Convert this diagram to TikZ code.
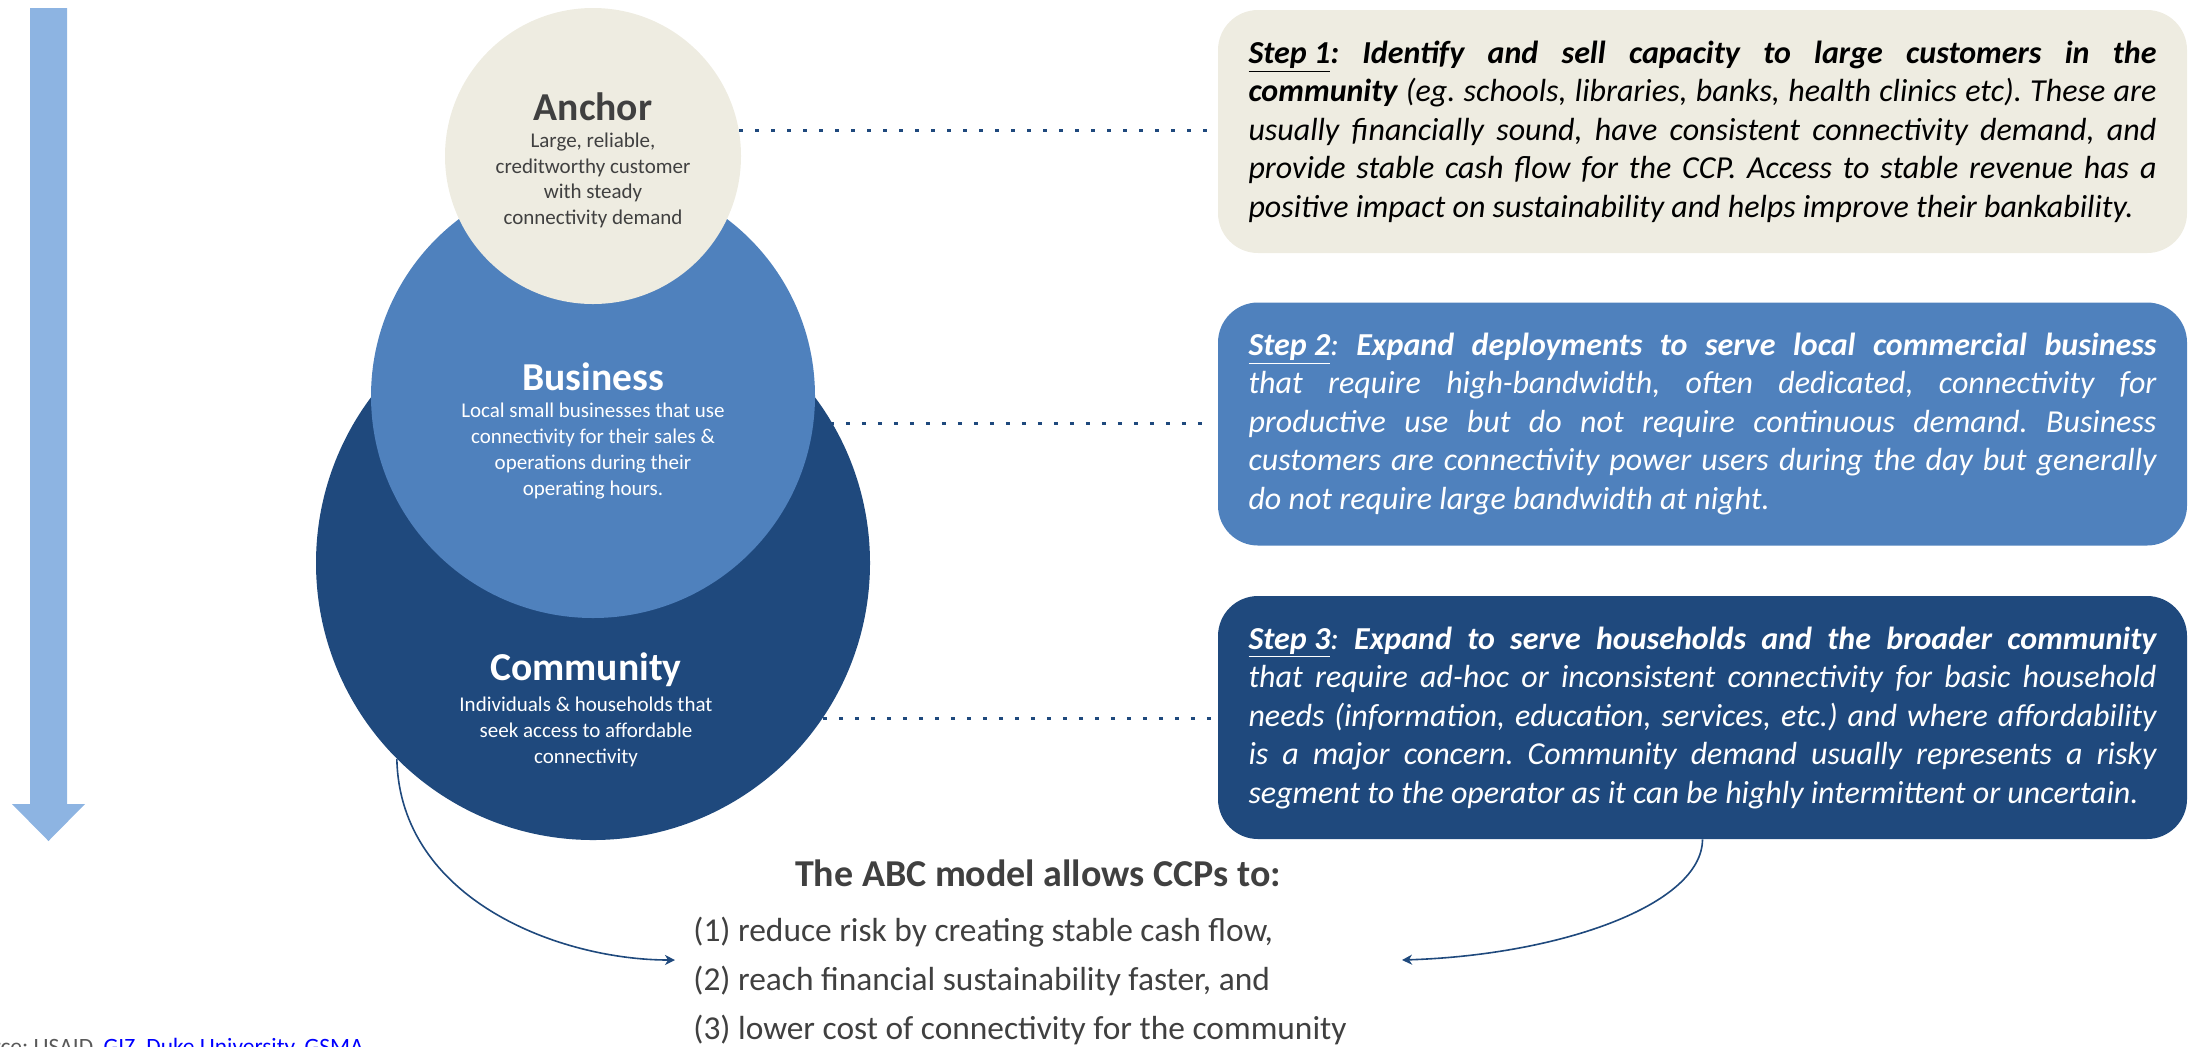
\documentclass[tikz,border=0pt]{standalone}
\usepackage{fontspec}
\setmainfont{Carlito}
\usetikzlibrary{positioning,arrows.meta}

\definecolor{anchorbg}{HTML}{EEECE1}
\definecolor{bizblue}{HTML}{4F81BD}
\definecolor{commblue}{HTML}{1F497D}
\definecolor{downblue}{HTML}{8DB4E2}
\definecolor{txtgray}{HTML}{404040}
\definecolor{srcgray}{HTML}{595959}
\definecolor{linkblue}{HTML}{0000FF}

\tolerance=9999
\hyphenpenalty=10000
\frenchspacing

\begin{document}
\begin{tikzpicture}[
  x=0.5pt, y=-0.5pt,
  disc/.style={circle, inner sep=0pt, draw=none},
  ttl/.style={font=\fontsize{19.8}{24}\selectfont\bfseries, inner sep=0pt},
  desc/.style={font=\fontsize{10.5}{12.85}\selectfont, align=center, inner sep=0pt},
  stepbox/.style={rounded corners=20pt, minimum width=484.5pt, minimum height=121.5pt,
    text width=454pt, align=justify, inner xsep=15.25pt, inner ysep=0pt,
    font=\fontsize{16}{19.25}\selectfont\itshape\frenchspacing},
  dotline/.style={draw=commblue, line width=1.6pt, dash pattern=on 2pt off 6pt},
  arr/.style={-{Stealth[length=5pt, width=5pt, inset=1.5pt]}, draw=commblue, line width=0.8pt}
]
  \useasboundingbox (0,0) rectangle (2193,1046);
  \clip (0,0) rectangle (2193,1046);

  % downward arrow on the left
  \fill[downblue] (30,8) -- (67,8) -- (67,804) -- (85,804) -- (48.5,841)
    -- (12,804) -- (30,804) -- cycle;

  % the three circles
  \node[disc, fill=commblue, minimum size=277pt] (commC) at (593,563) {};
  \node[disc, fill=bizblue, minimum size=222pt] (bizC) at (593,396) {};
  \node[disc, fill=anchorbg, minimum size=148pt] (anchorC) at (593,156) {};

  \node[ttl, text=txtgray] (anchorTtl) at (593,107) {Anchor};
  \node[desc, text=txtgray] (anchorTxt) at (593,180.5)
    {Large, reliable,\\creditworthy customer\\with steady\\connectivity demand};

  \node[ttl, text=white] (bizTtl) at (593,377) {Business};
  \node[desc, text=white] (bizTxt) at (593,451)
    {Local small businesses that use\\connectivity for their sales \&\\operations during their\\operating hours.};

  \node[ttl, text=white] (commTtl) at (586,670) {Community};
  \node[desc, text=white] (commTxt) at (586,732)
    {Individuals \& households that\\seek access to affordable\\connectivity};

  % step boxes
  \node[stepbox, fill=anchorbg, text=black] (step1) at (1702.5,131.5)
    {\textbf{\underline{Step 1}: Identify and sell capacity to large customers in the\linebreak
    community} (eg. schools, libraries, banks, health clinics etc). These are\linebreak
    usually financially sound, have consistent connectivity demand, and\linebreak
    provide stable cash flow for the CCP. Access to stable revenue has a\linebreak
    positive impact on sustainability and helps improve their bankability.};

  \node[stepbox, fill=bizblue, text=white] (step2) at (1702.5,424)
    {\textbf{\underline{Step 2}}: \textbf{Expand deployments to serve local commercial business}\linebreak
    that require high-bandwidth, often dedicated, connectivity for\linebreak
    productive use but do not require continuous demand. Business\linebreak
    customers are connectivity power users during the day but generally\linebreak
    do not require large bandwidth at night.};

  \node[stepbox, fill=commblue, text=white] (step3) at (1702.5,717.5)
    {\textbf{\underline{Step 3}}: \textbf{Expand to serve households and the broader community}\linebreak
    that require ad-hoc or inconsistent connectivity for basic household\linebreak
    needs (information, education, services, etc.) and where affordability\linebreak
    is a major concern. Community demand usually represents a risky\linebreak
    segment to the operator as it can be highly intermittent or uncertain.};

  % dotted leaders
  \draw[dotline, shorten >=3.5pt] (anchorC.10) -- (anchorC.10 -| step1.west);
  \draw[dotline, shorten >=2pt] (bizC.-7) -- (bizC.-7 -| step2.west);
  \draw[dotline, shorten >=2pt] (commC.-34) -- (commC.-34 -| step3.west);

  % summary
  \node[font=\fontsize{19}{23}\selectfont\bfseries, text=txtgray, inner sep=0pt] (abcTtl) at (1038,873)
    {The ABC model allows CCPs to:};
  \node[anchor=west, align=left, font=\fontsize{16.7}{24.5}\selectfont, text=txtgray, inner sep=0pt] (abcList) at (693,981)
    {(1) reduce risk by creating stable cash flow,\\
     (2) reach financial sustainability faster, and\\
     (3) lower cost of connectivity for the community};

  \coordinate (lTip) at (675,960);
  \coordinate (rTip) at (1402,960);
  \draw[arr] (commC.225) .. controls (400,900) and (560,960) .. (lTip);
  \draw[arr] (step3.south) .. controls (1702,905) and (1560,955) .. (rTip);

  % source line, cut at the page edge
  \node[anchor=base west, inner sep=0pt, font=\fontsize{11.7}{14}\selectfont, text=srcgray] (src) at (-43,1054)
    {Source: USAID, \textcolor{linkblue}{GIZ, Duke University, GSMA}};
\end{tikzpicture}
\end{document}
